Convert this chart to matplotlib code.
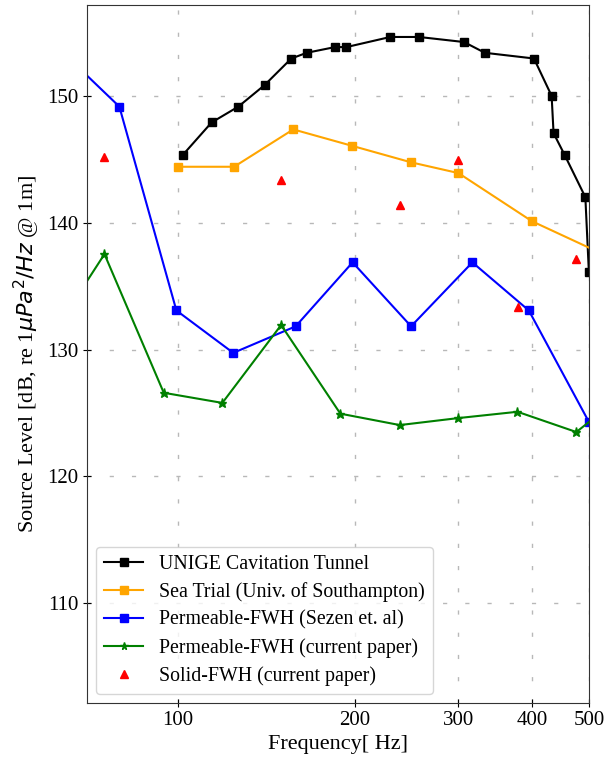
import matplotlib
matplotlib.use("Agg")
import matplotlib.pyplot as plt
from matplotlib.ticker import FixedLocator, NullLocator, FixedFormatter

plt.rcParams['font.family'] = ['Liberation Serif', 'DejaVu Serif']
plt.rcParams['mathtext.fontset'] = 'dejavusans'

# UNIGE Cavitation Tunnel
unige_f = [102.0, 114.1, 126.7, 140.4, 155.9, 165.6, 184.9, 193.4, 229.7, 257.1,
           306.6, 332.7, 403.2, 432.1, 435.4, 454.5, 493.1, 500.0]
unige_L = [145.4, 147.95, 149.2, 150.9, 153.0, 153.45, 153.9, 153.9, 154.7, 154.7,
           154.3, 153.45, 153.0, 150.05, 147.1, 145.4, 142.05, 136.1]

# Sea trial (Univ. of Southampton)
sea_f = [100.0, 124.6, 157.1, 197.9, 249.2, 300.0, 400.0, 630.0]
sea_L = [144.45, 144.45, 147.4, 146.1, 144.8, 143.95, 140.15, 135.9]

# Permeable-FWH (Sezen et al)
sez_f = [63.0, 79.5, 99.4, 124.2, 158.6, 198.2, 249.2, 316.8, 395.2, 500.0]
sez_L = [153.7, 149.2, 133.1, 129.75, 131.85, 136.9, 131.85, 136.9, 133.1, 124.3]

# Permeable-FWH (current paper)
perm_f = [60.0, 75.0, 94.6, 119.0, 149.8, 188.9, 238.4, 299.6, 378.0, 476.0, 600.0]
perm_L = [130.6, 137.55, 126.6, 125.8, 131.95, 124.95, 124.05, 124.6, 125.1, 123.5, 127.2]

# Solid-FWH (current paper)
solid_f = [75.0, 149.9, 238.4, 300.0, 378.3, 476.2]
solid_L = [145.2, 143.4, 141.45, 145.0, 133.4, 137.2]

xticks = [100, 200, 300, 400, 500]
xticklabels = ['100', '200', '300', '400', '500']
yticks = [110, 120, 130, 140, 150]

fig = plt.figure(figsize=(6.16, 7.6), dpi=100)
ax = fig.add_axes([0.141, 0.075, 0.815, 0.918])

ax.plot(unige_f, unige_L, '-s', color='black', lw=1.5, ms=6, label='UNIGE Cavitation Tunnel')
ax.plot(sea_f, sea_L, '-s', color='orange', lw=1.5, ms=6, label='Sea Trial (Univ. of Southampton)')
ax.plot(sez_f, sez_L, '-s', color='blue', lw=1.5, ms=6, label='Permeable-FWH (Sezen et. al)')
ax.plot(perm_f, perm_L, '-*', color='green', lw=1.5, ms=6.5, label='Permeable-FWH (current paper)')
ax.plot(solid_f, solid_L, '^', color='red', ls='none', ms=6, label='Solid-FWH (current paper)')

ax.set_xscale('log')
ax.set_xlim(70, 500)
ax.set_ylim(102.1, 157.2)
ax.xaxis.set_major_locator(FixedLocator(xticks))
ax.xaxis.set_major_formatter(FixedFormatter(xticklabels))
ax.xaxis.set_minor_locator(NullLocator())
ax.set_yticks(yticks)
ax.tick_params(labelsize=15, length=6, width=0.8, direction='inout', pad=3)

ax.grid(True, ls=(0, (3, 13)), color='#b8b8b8', lw=1.0)

for s in ax.spines.values():
    s.set_color('#333333')

ax.set_xlabel('Frequency[ Hz]', fontsize=16, labelpad=3)
ax.set_ylabel(r'Source Level [dB, re 1$\mu Pa^2/Hz$ @ 1m]', fontsize=16, labelpad=4)

leg = ax.legend(loc='lower left', fontsize=14.3, frameon=True, framealpha=0.8,
                borderaxespad=0.45, handlelength=2.0, labelspacing=0.42,
                markerscale=0.85)

fig.savefig('out.png', dpi=100)
